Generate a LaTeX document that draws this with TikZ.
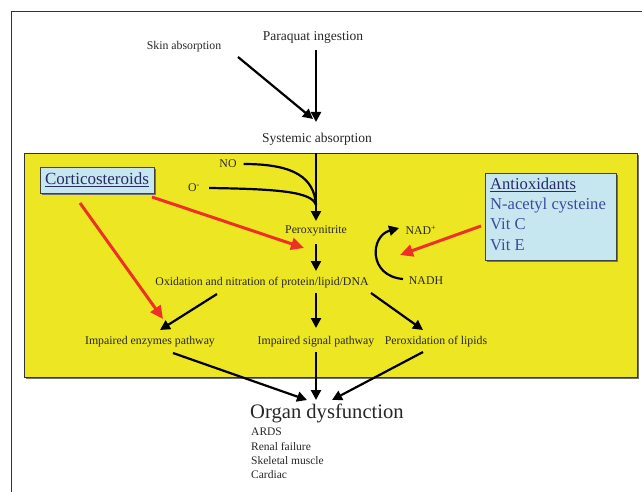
\documentclass[tikz,border=0pt]{standalone}
\usepackage{fontspec}
\setmainfont{Liberation Serif}
\usetikzlibrary{arrows.meta}
\definecolor{ybg}{HTML}{EDE723}
\definecolor{lblue}{HTML}{C7E7F0}
\definecolor{ared}{HTML}{EE3026}
\definecolor{tblue}{HTML}{3C4A9C}
\definecolor{tdark}{HTML}{2A2A66}
\begin{document}
\begin{tikzpicture}[x=1pt,y=-1pt,
  blk/.style={line width=2.2pt,-{Triangle[length=10pt,width=10pt]}},
  blkline/.style={line width=2.2pt},
  redarr/.style={line width=3pt,ared,-{Triangle[length=13pt,width=12pt]}},
  lbl/.style={font=\fontsize{11.8}{13}\selectfont,inner sep=1pt,text=black!85},
  big/.style={font=\fontsize{13.5}{15}\selectfont,inner sep=1pt,text=black!85},
  listitem/.style={font=\fontsize{11.5}{13}\selectfont,inner sep=0pt,anchor=west,text=black!85},
  drugbox/.style={fill=lblue,draw=black!75,line width=0.8pt},
  shadowbox/.style={fill=black!55}
 ]
\useasboundingbox (0,0) rectangle (642,492);
% outer frame
\draw[line width=1pt,black!80] (11,492) -- (11,12) -- (642,12);
% yellow panel
\fill[shadowbox] (26,155) rectangle (639,379);
\draw[black!80,fill=ybg,line width=0.8pt] (24,153) rectangle (637,377);

% top part
\node[big] (paraquat) at (313,37) {Paraquat ingestion};
\node[lbl] (skin) at (184,47) {Skin absorption};
\node[big] (systemic) at (317,139) {Systemic absorption};
\coordinate (pqs) at (316,50);
\coordinate (pqe) at (316,122);
\coordinate (sks) at (238,57);
\coordinate (ske) at (313,119);
\draw[blk] (pqs) -- (pqe);
\draw[blk] (sks) -- (ske);

% peroxynitrite formation
\node[lbl] (no) at (228,164) {NO};
\node[lbl] (ominus) at (194,188) {O\textsuperscript{-}};
\node[lbl] (peroxy) at (316,231) {Peroxynitrite};
\coordinate (ytop) at (316,153);
\coordinate (join) at (316,205);
\draw[blk] (ytop) -- (316,221);
\draw[blkline] (no.east) ++(6,0) .. controls (295,164) and (314,178) .. (join);
\draw[blkline] (ominus.east) ++(8,0) .. controls (280,189) and (312,192) .. (join);

% corticosteroids
\fill[shadowbox] (42,169) rectangle (156,195);
\node[drugbox,minimum width=114pt,minimum height=26pt,inner sep=0pt,
      font=\fontsize{17}{18}\selectfont,text=tdark] (cortico) at (97,180) {\underline{Corticosteroids}};

% antioxidants
\fill[shadowbox] (487,175) rectangle (618,262);
\node[drugbox,anchor=north west,minimum width=131pt,minimum height=87pt,
      inner sep=0pt] (antiox) at (485,173) {};
\node[anchor=north west,inner sep=0pt,align=left,
      font=\fontsize{16.6}{20.3}\selectfont,text=tblue] (antitext) at (490,177.5)
  {\textcolor{tdark}{\underline{Antioxidants}}\\N-acetyl cysteine\\Vit C\\Vit E};

% NAD cycle
\node[lbl] (nadp) at (421,230) {NAD\textsuperscript{+}};
\node[lbl] (nadh) at (426,281) {NADH};
\coordinate (cycs) at (403,279);
\coordinate (cyce) at (399,228);
\draw[blk] (cycs) .. controls (368,276) and (370,236) .. (cyce);

% oxidation
\node[lbl] (oxid) at (262,283) {Oxidation and nitration of protein/lipid/DNA};
\draw[blk] (peroxy.south) ++(0,7) -- (316,271);

% pathways
\node[lbl] (enz) at (150,342) {Impaired enzymes pathway};
\node[lbl] (sig) at (316,342) {Impaired signal pathway};
\node[lbl] (lip) at (436,342) {Peroxidation of lipids};
\draw[blk] (217,294) -- (160,330);
\draw[blk] (316,293) -- (316,328);
\draw[blk] (371,293) -- (423,330);

% red arrows
\draw[redarr] (152,197) -- (304,248);
\draw[redarr] (80,203) -- (163,319);
\draw[redarr] (481,226) -- (400,255);

% organ dysfunction
\node[inner sep=0pt,anchor=west,font=\fontsize{20.6}{22}\selectfont,text=black!85] (organ) at (250,413) {Organ dysfunction};
\node[listitem] (ards) at (251,432) {ARDS};
\node[listitem] (renal) at (251,447) {Renal failure};
\node[listitem] (skel) at (251,461) {Skeletal muscle};
\node[listitem] (card) at (251,475) {Cardiac};
\draw[blk] (173,353) -- (307,400);
\draw[blk] (316,352) -- (316,400);
\draw[blk] (423,352) -- (332,400);
\end{tikzpicture}
\end{document}
